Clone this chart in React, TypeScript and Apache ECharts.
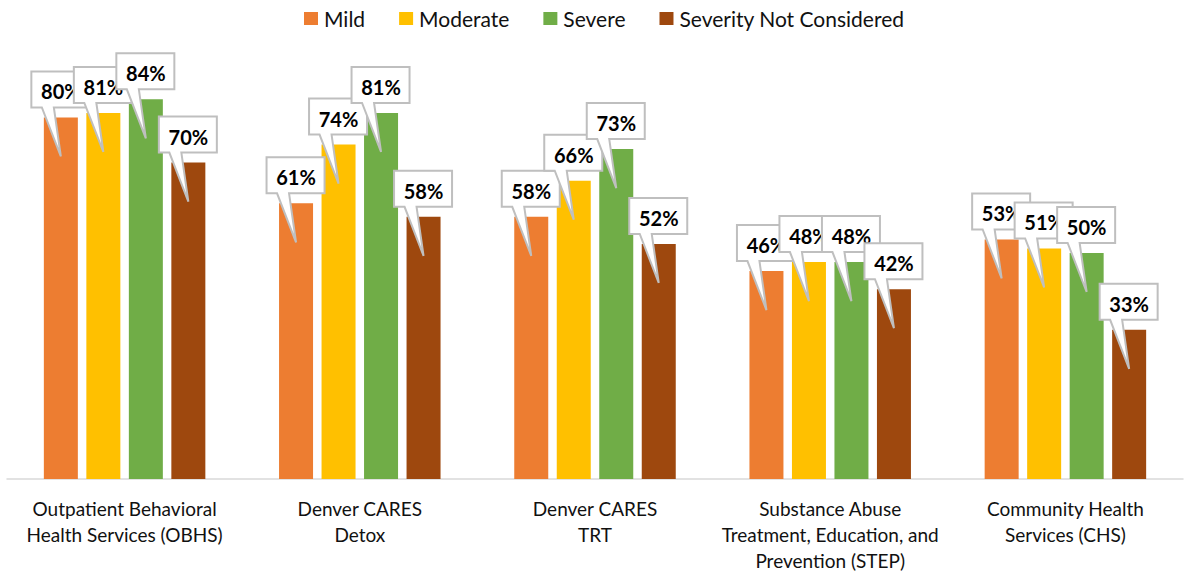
import React, { useEffect, useRef } from "react";
import * as echarts from "echarts";

const categories = [
  "Outpatient Behavioral\nHealth Services (OBHS)",
  "Denver CARES\nDetox",
  "Denver CARES\nTRT",
  "Substance Abuse\nTreatment, Education, and\nPrevention (STEP)",
  "Community Health\nServices (CHS)",
];
const seriesNames = ["Mild", "Moderate", "Severe", "Severity Not Considered"];
const mild = [80, 61, 58, 46, 53];
const moderate = [81, 74, 66, 48, 51];
const severe = [84, 81, 73, 48, 50];
const notConsidered = [70, 58, 52, 42, 33];
const colors = ["#ED7D31", "#FFC000", "#70AD47", "#9E480E"];

const BAR_W = 34;
const GAP_RATIO = 0.25;
const FONT = "Lato, 'Liberation Sans', sans-serif";

export default function App() {
  const ref = useRef<HTMLDivElement>(null);
  useEffect(() => {
    if (!ref.current) return;
    const chart = echarts.init(ref.current, null, { renderer: "svg" });
    const allSeries = [mild, moderate, severe, notConsidered];
    const calloutData: number[][] = [];
    categories.forEach((_, ci) => {
      allSeries.forEach((arr, si) => {
        calloutData.push([ci, si, arr[ci]]);
      });
    });
    const step = BAR_W * (1 + GAP_RATIO);
    chart.setOption({
      animation: false,
      legend: {
        data: seriesNames,
        top: 3,
        left: 299,
        itemWidth: 14,
        itemHeight: 13,
        itemGap: 34,
        icon: "rect",
        textStyle: { fontSize: 21, color: "#111", fontFamily: FONT, padding: [0, 0, 0, 1] },
      },
      grid: { left: 7, right: 10, top: 27, bottom: 94, containLabel: false },
      xAxis: {
        type: "category",
        data: categories,
        axisLine: { lineStyle: { color: "#d9d9d9", width: 1.5 } },
        axisTick: { show: false },
        axisLabel: {
          interval: 0,
          fontSize: 19,
          lineHeight: 26,
          margin: 16,
          color: "#111",
          fontFamily: FONT,
        },
      },
      yAxis: { type: "value", min: 0, max: 100, show: false, splitLine: { show: false } },
      series: [
        ...allSeries.map((arr, i) => ({
          name: seriesNames[i],
          type: "bar",
          data: arr,
          barWidth: BAR_W,
          barGap: GAP_RATIO * 100 + "%",
          itemStyle: { color: colors[i] },
        })),
        {
          type: "custom",
          silent: true,
          z: 10,
          data: calloutData,
          encode: { x: 0, y: 2 },
          renderItem: (params: any, api: any) => {
            const ci = api.value(0);
            const si = api.value(1);
            const v = api.value(2);
            const p = api.coord([ci, v]);
            const cx = p[0] + (si - 1.5) * step;
            const top = p[1];
            const L = cx - 29.5;
            const R = cx + 28.5;
            const T = top - 46;
            const B = top - 10;
            return {
              type: "group",
              children: [
                {
                  type: "polygon",
                  shape: {
                    points: [
                      [L, T],
                      [R, T],
                      [R, B],
                      [cx - 7, B],
                      [cx, top + 39],
                      [cx - 19, B],
                      [L, B],
                    ],
                  },
                  style: { fill: "#ffffff", stroke: "#bfbfbf", lineWidth: 2 },
                },
                {
                  type: "text",
                  style: {
                    text: v + "%",
                    x: cx,
                    y: top - 26,
                    align: "center",
                    verticalAlign: "middle",
                    fontSize: 20,
                    fontWeight: "bold",
                    fontFamily: FONT,
                    fill: "#000",
                  },
                },
              ],
            };
          },
        },
      ],
    });
    return () => chart.dispose();
  }, []);
  return (
    <div
      ref={ref}
      style={{ position: "absolute", left: 0, top: 0, width: 1193, height: 573 }}
    />
  );
}
